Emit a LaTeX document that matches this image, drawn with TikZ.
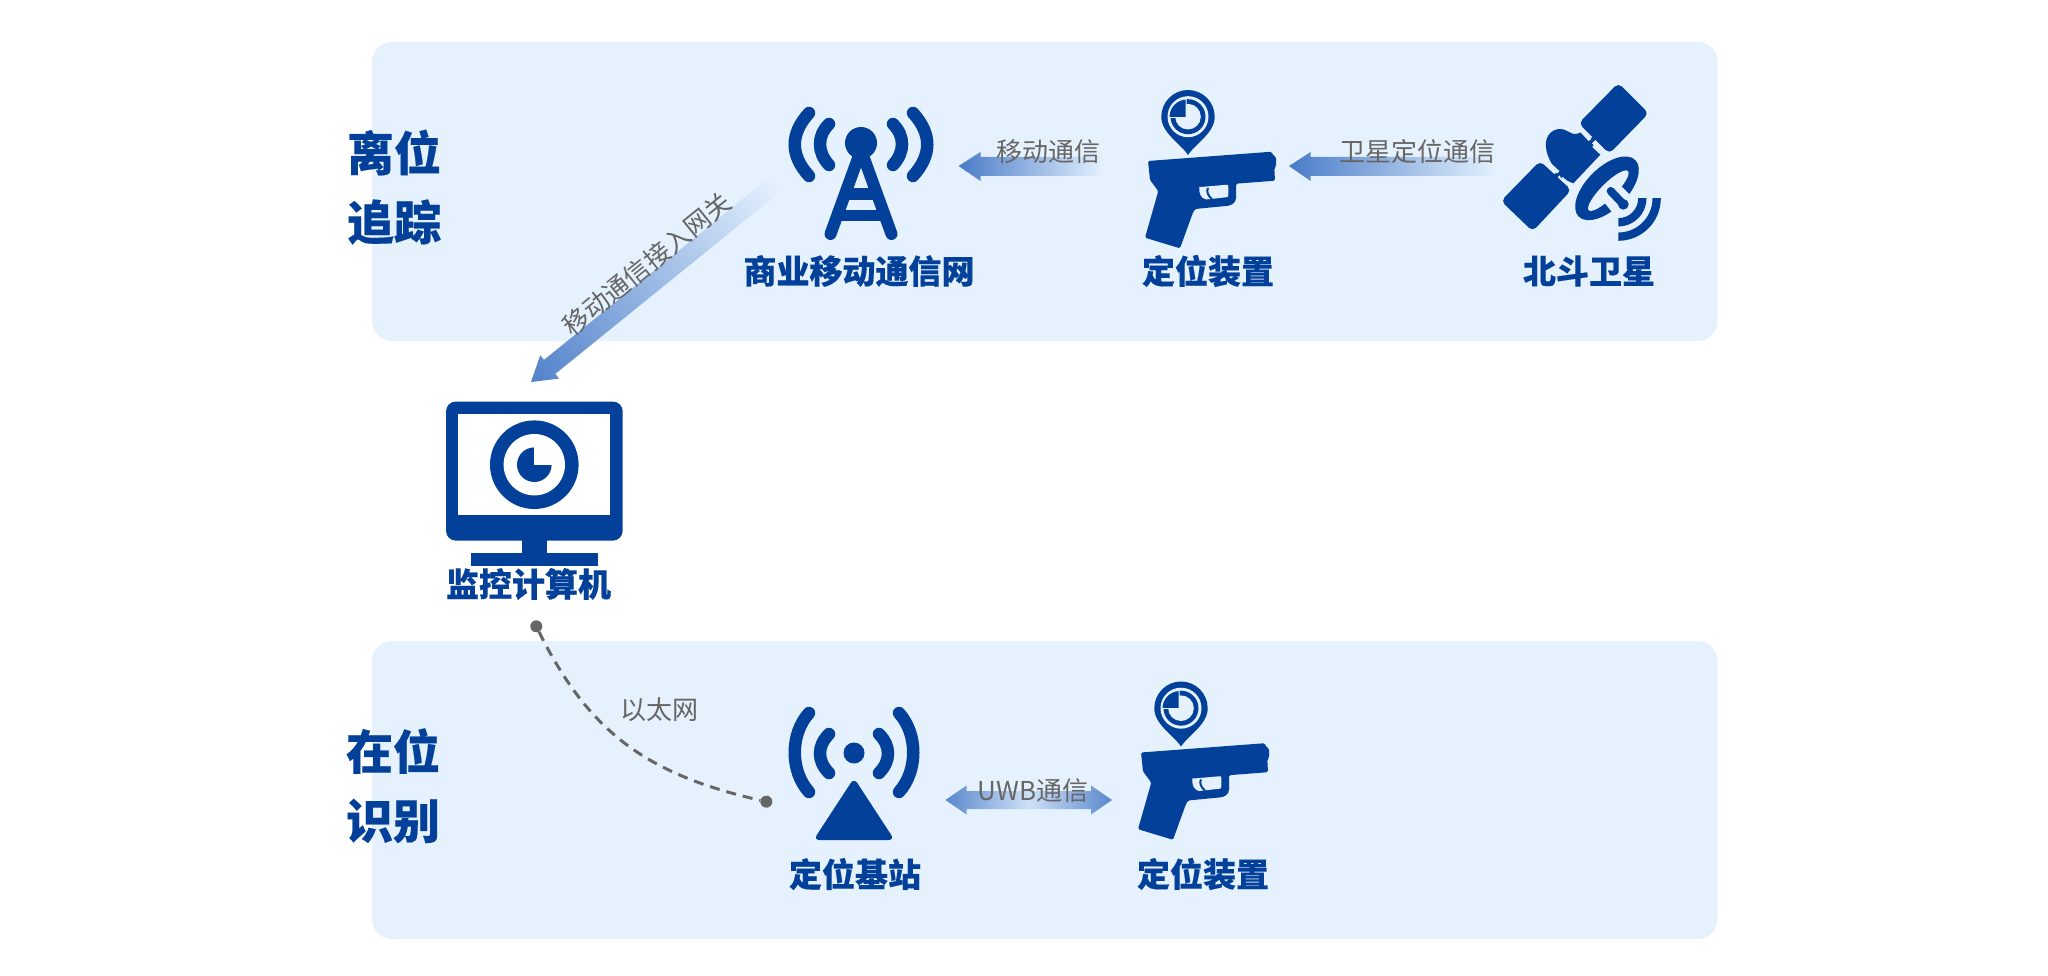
\documentclass[tikz,border=0pt]{standalone}
\usepackage{fontspec}
\setmainfont{Noto Sans CJK SC}
\newfontfamily\cjkr{Noto Sans CJK SC}
\newfontfamily\cjkh[FakeBold=0.3]{Noto Sans CJK SC Black}
\definecolor{panelc}{HTML}{E5F2FE}
\definecolor{iconc}{HTML}{03409A}
\definecolor{greyc}{HTML}{666666}
\definecolor{arrowc}{HTML}{4A7CC8}
\tikzset{
  panelbox/.style={fill=panelc,rounded corners=20pt},
  bluelabel/.style={text=iconc,font=\cjkh\fontsize{33}{33}\selectfont,inner sep=0pt},
  titlelabel/.style={text=iconc,font=\cjkh\fontsize{47}{47}\selectfont,inner sep=0pt},
  greylabel/.style={text=greyc,font=\cjkr\fontsize{26}{26}\selectfont,inner sep=0pt},
  wave/.style={draw=iconc,line width=12.5pt,line cap=round},
  towerleg/.style={draw=iconc,line width=12pt,line cap=round},
  enddot/.style={circle,fill=greyc,minimum size=12pt,inner sep=0pt},
}
\newcommand{\gunicon}[2]{%
\begin{scope}[shift={(#1,#2)}]
  \fill[iconc,rounded corners=1.5pt] (1148,161) -- (1271.7,151.7) -- (1273.3,155.7) -- (1276,156.7) -- (1276,166.7) -- (1274.3,167.7) -- (1275,180.7) -- (1236,183.7) -- (1236,196.7) .. controls (1236,203) and (1231,205.5) .. (1226,206) -- (1195,209) -- (1192.7,213.3) -- (1180,248.3) -- (1145,237.7) -- (1158.3,191) -- (1150,180) -- cycle;
  \fill[panelc] (1199.3,188) .. controls (1199.3,186.5) .. (1201,187) -- (1226,184.8) .. controls (1228.3,184.6) .. (1228.3,187) -- (1228.3,194) .. controls (1228.3,197) .. (1226,197.3) -- (1206,199.5) .. controls (1201,198) and (1199,194) .. cycle;
  \draw[iconc,line width=2pt] (1208,188) .. controls (1206,191) and (1208,196) .. (1212,199);
  % location pin
  \fill[iconc] (1188,155) .. controls (1180,143) and (1161.3,133) .. (1161.3,116.7) .. controls (1161.3,102) and (1173.3,90) .. (1188,90) .. controls (1202.7,90) and (1214.7,102) .. (1214.7,116.7) .. controls (1214.7,133) and (1196,143) .. cycle;
  \fill[panelc] (1188,116.7) circle[radius=20.5pt];
  \fill[iconc] (1188,116.7) circle[radius=17.5pt];
  \fill[panelc] (1188,116.7) circle[radius=12.8pt];
  \begin{scope}
    \clip (1186.6,117.2) rectangle (1166,96);
    \fill[panelc] (1188,116.7) circle[radius=18pt];
  \end{scope}
  \begin{scope}
    \clip (1185.6,116.2) rectangle (1166,96);
    \fill[iconc] (1187,117) circle[radius=17.5pt];
  \end{scope}
\end{scope}}
\begin{document}
\begin{tikzpicture}[x=1pt,y=-1pt]
\useasboundingbox (0,0) rectangle (2048,976);
\fill[white] (0,0) rectangle (2048,976);
% panels
\fill[panelbox] (372,42) rectangle (1717.5,341);
\fill[panelbox] (372,641) rectangle (1717.5,939);
% titles
\node[titlelabel] (t1) at (394,152.5) {离位};
\node[titlelabel] (t2) at (394,222) {追踪};
\node[titlelabel] (t3) at (393,751) {在位};
\node[titlelabel] (t4) at (393,821) {识别};
% tower
\fill[iconc] (861,143) circle[radius=16pt];
\draw[towerleg] (861,150) -- (830.5,234);
\draw[towerleg] (861,150) -- (891.5,234);
\fill[iconc] (843,188) rectangle (879,200);
\fill[iconc] (836,210) rectangle (886,221);
\draw[wave] (809,113) .. controls (790,134) and (790,155) .. (809,176);
\draw[wave] (913,113) .. controls (932,134) and (932,155) .. (913,176);
\draw[wave] (829,124) .. controls (817,136) and (817,152) .. (829,165);
\draw[wave] (893,124) .. controls (905,136) and (905,152) .. (893,165);
\node[bluelabel] (l1) at (859,271) {商业移动通信网};
% guns
\gunicon{0}{0}
\gunicon{-7}{591.5}
\node[bluelabel] (l2) at (1208,271) {定位装置};
\node[bluelabel] (l3) at (1203,874) {定位装置};
% satellite
\begin{scope}[shift={(1490,75)},scale=0.33333]
  \fill[iconc,rounded corners=5pt] (385,24) -- (476,115) -- (358,236) -- (266,145) -- cycle;
  \fill[iconc,rounded corners=5pt] (150,258) -- (244,345) -- (128,469) -- (33,378) -- cycle;
  \fill[iconc] (190,275) .. controls (175,250) and (165,225) .. (168,200) .. controls (172,170) and (205,150) .. (235,170) .. controls (250,180) and (262,178) .. (272,172) -- (335,235) -- (250,325) -- (215,310) -- cycle;
  \draw[iconc,line width=4pt] (330,172) -- (195,305);
  \draw[panelc,line width=3.4pt] (275,168) -- (300,195);
  \draw[panelc,line width=3.4pt] (310,212) -- (340,240);
  \draw[panelc,line width=3.4pt] (172,262) -- (205,292);
  \draw[panelc,line width=3.4pt] (215,310) -- (247,338);
  \fill[panelc,rotate around={45:(351,340)}] (351,340) ellipse[x radius=130pt,y radius=71pt];
  \fill[iconc,rotate around={45:(351,340)}] (351,340) ellipse[x radius=120pt,y radius=62pt];
  \fill[panelc,rotate around={45:(355,347)}] (355,347) ellipse[x radius=83pt,y radius=22pt];
  \fill[panelc] (345,385) -- (395,335) -- (480,420) -- (420,480) -- cycle;
  \draw[iconc,line width=8pt,line cap=round] (362,348) -- (398,386);
  \fill[iconc] (400,388) circle[radius=16pt];
  \begin{scope}
    \clip (385,370) rectangle (530,500);
    \draw[iconc,line width=8.3pt] (385,370) circle[radius=72pt];
    \draw[iconc,line width=8.3pt] (385,370) circle[radius=115pt];
  \end{scope}
\end{scope}
\node[bluelabel] (l4) at (1589,271) {北斗卫星};
% monitor
\fill[iconc,rounded corners=10pt] (446,401.5) rectangle (622.7,540.7);
\fill[white] (458,414) rectangle (610,515);
\fill[iconc] (522,530) rectangle (547,555);
\fill[iconc] (471,553) rectangle (597.7,566);
\fill[iconc] (534.3,464.7) circle[radius=44.3pt];
\fill[white] (534.3,464.7) circle[radius=30.7pt];
\fill[iconc] (534.3,464.7) circle[radius=17.3pt];
\fill[white] (534.3,464.7) rectangle (553,445);
\node[bluelabel] (l5) at (528.5,584) {监控计算机};
% base station
\draw[wave] (809,713) .. controls (790,734) and (790,771) .. (809,792);
\draw[wave] (899,713) .. controls (918,734) and (918,771) .. (899,792);
\draw[wave] (829,734) .. controls (817,746) and (817,761) .. (829,773);
\draw[wave] (879,734) .. controls (891,746) and (891,761) .. (879,773);
\fill[iconc] (854,753) circle[radius=10.5pt];
\fill[iconc,rounded corners=6pt] (854,778) -- (894.5,840) -- (813.5,840) -- cycle;
\node[bluelabel] (l6) at (855,874) {定位基站};
% gradient arrows
\shade[left color=arrowc,right color=panelc] (958.5,166) -- (980.5,152) -- (980.5,157) -- (1105,157) -- (1105,176) -- (980.5,176) -- (980.5,181) -- cycle;
\shade[left color=arrowc,right color=panelc] (1289,166) -- (1310.6,152) -- (1310.6,157) -- (1498,157) -- (1498,176) -- (1310.6,176) -- (1310.6,181) -- cycle;
\shade[left color=arrowc!90!panelc,right color=arrowc!90!panelc,middle color=panelc!85!arrowc] (945.5,800) -- (966.5,785.5) -- (966.5,791) -- (1091,791) -- (1091,785.5) -- (1112,800) -- (1091,814.5) -- (1091,809) -- (966.5,809) -- (966.5,814.5) -- cycle;
\begin{scope}[transform canvas={shift={(531,382)},rotate=39}]
  \shade[left color=arrowc!95!panelc,right color=panelc] (0,0) -- (24,-15) -- (24,-9) -- (318,-9) -- (318,9) -- (24,9) -- (24,15) -- cycle;
\end{scope}
% connector labels
\node[greylabel] (g1) at (1048,152) {移动通信};
\node[greylabel] (g2) at (1417,152) {卫星定位通信};
\node[greylabel] (g3) at (1033,791) {UWB通信};
\node[greylabel] (g4) at (659,710) {以太网};
\node[greylabel,rotate=39] (g5) at (647,264) {移动通信接入网关};
% ethernet link
\node[enddot] (d1) at (536.3,626.3) {};
\node[enddot] (d2) at (766.3,801.7) {};
\draw[greyc,line width=3pt,dash pattern=on 10pt off 7pt] (d1) .. controls (590,735) and (650,775) .. (d2);
\end{tikzpicture}
\end{document}
